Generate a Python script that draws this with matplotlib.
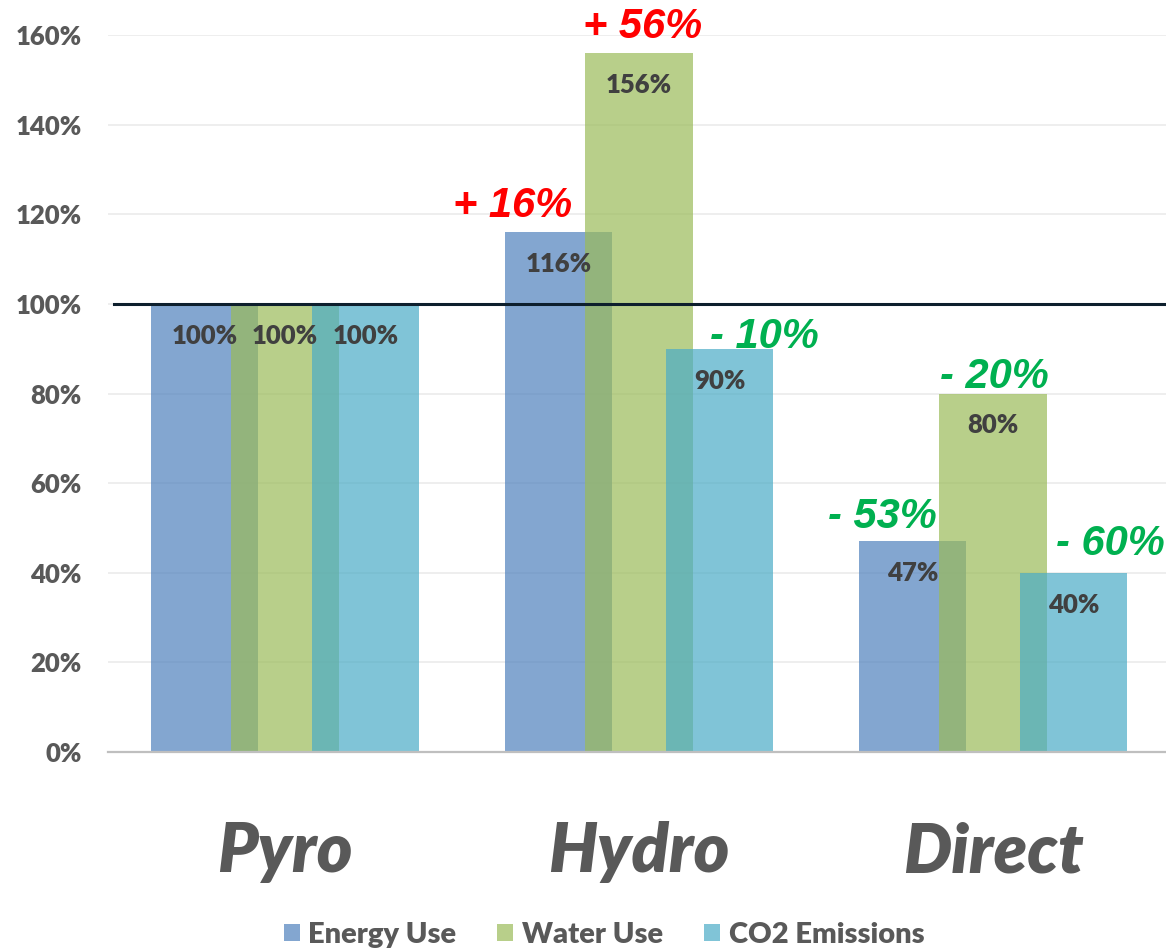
import numpy as np
import matplotlib.pyplot as plt
from matplotlib.patches import Patch

# dati: consumo relativo rispetto al processo Pyro
processi = ['Pyro', 'Hydro', 'Direct']
serie = ['Energy Use', 'Water Use', 'CO2 Emissions']
energia = [1.00, 1.16, 0.47]
acqua = [1.00, 1.56, 0.80]
co2 = [1.00, 0.90, 0.40]
colori = ['#4F81BD', '#9BBB59', '#4BACC6']

# variazioni scritte sopra le barre: (serie, processo, testo)
variazioni = [(0, 1, '+ 16%'), (1, 1, '+ 56%'), (2, 1, '- 10%'),
              (1, 2, '- 20%'), (0, 2, '- 53%'), (2, 2, '- 60%')]
spost = {(0, 1): (-46, 15), (1, 1): (4, 15), (2, 1): (45, 1),
         (1, 2): (1, 5), (0, 2): (-30, 13), (2, 2): (37, 18)}

PESO = 'heavy'

fig = plt.figure(figsize=(11.66, 9.51), dpi=100)
ax = fig.add_axes([108 / 1166, 1 - 752 / 951, 1 - 108 / 1166, 717 / 951])

x = np.arange(len(processi))
larg = 0.303
passo = 0.228
valori = [energia, acqua, co2]

for k, v in enumerate(valori):
    xs = x + (k - 1) * passo
    ax.bar(xs, v, width=larg, color=colori[k], alpha=0.7, zorder=2 + k,
           linewidth=0)
    for xi, vi in zip(xs, v):
        ax.annotate(f'{vi * 100:.0f}%', (xi, vi), xytext=(0, -23),
                    textcoords='offset points', ha='center', va='center',
                    fontsize=18.5, fontweight=PESO, family='Lato',
                    color='#404040', zorder=10)

for k, i, testo in variazioni:
    dx, dy = spost[(k, i)]
    col = 'red' if testo.startswith('+') else '#00B050'
    ax.annotate(testo, (x[i] + (k - 1) * passo, valori[k][i]),
                xytext=(dx * 0.72, dy * 0.72), textcoords='offset points',
                ha='center', va='baseline', fontsize=30, fontweight='bold',
                fontstyle='italic', family='Liberation Sans', color=col,
                zorder=11, annotation_clip=False)

# linea di riferimento al 100%
ax.axhline(1.0, xmin=0.006, xmax=1, color='#0D1F2D', lw=2.2, zorder=8)

ax.set_xlim(-0.5, -0.5 + 1058 / 354)
ax.set_ylim(0, 1.6)
ax.set_yticks(np.arange(0, 1.61, 0.2))
ax.set_yticklabels([f'{t * 100:.0f}%' for t in np.arange(0, 1.61, 0.2)])
for t in ax.get_yticklabels():
    t.set_fontfamily('Lato')
    t.set_fontweight(PESO)
    t.set_fontsize(18.5)
    t.set_color('#595959')
ax.tick_params(axis='y', length=0, pad=19)
ax.set_xticks([])
ax.grid(axis='y', color='#EBEBEB', lw=1.2, zorder=0)
ax.set_axisbelow(True)
for s in ['top', 'right', 'left']:
    ax.spines[s].set_visible(False)
ax.spines['bottom'].set_color('#BFBFBF')
ax.spines['bottom'].set_linewidth(1.6)
ax.spines['bottom'].set_zorder(9)

for xi, nome in zip(x, processi):
    ax.text(xi, -0.1674, nome, transform=ax.get_xaxis_transform(),
            ha='center', va='baseline', fontsize=49, fontweight=PESO,
            fontstyle='italic', family='Lato', color='#595959')

maniglie = [Patch(facecolor=c, alpha=0.7, edgecolor='none') for c in colori]
fig.legend(maniglie, serie, loc='center', bbox_to_anchor=(0.518, 1 - 935 / 951),
           ncol=3, frameon=False, handlelength=0.55, handleheight=0.55,
           handletextpad=0.3, columnspacing=1.4,
           prop={'family': 'Lato', 'weight': PESO, 'size': 21})
for t in fig.legends[0].get_texts():
    t.set_color('#595959')

plt.savefig('out.png', dpi=100)
